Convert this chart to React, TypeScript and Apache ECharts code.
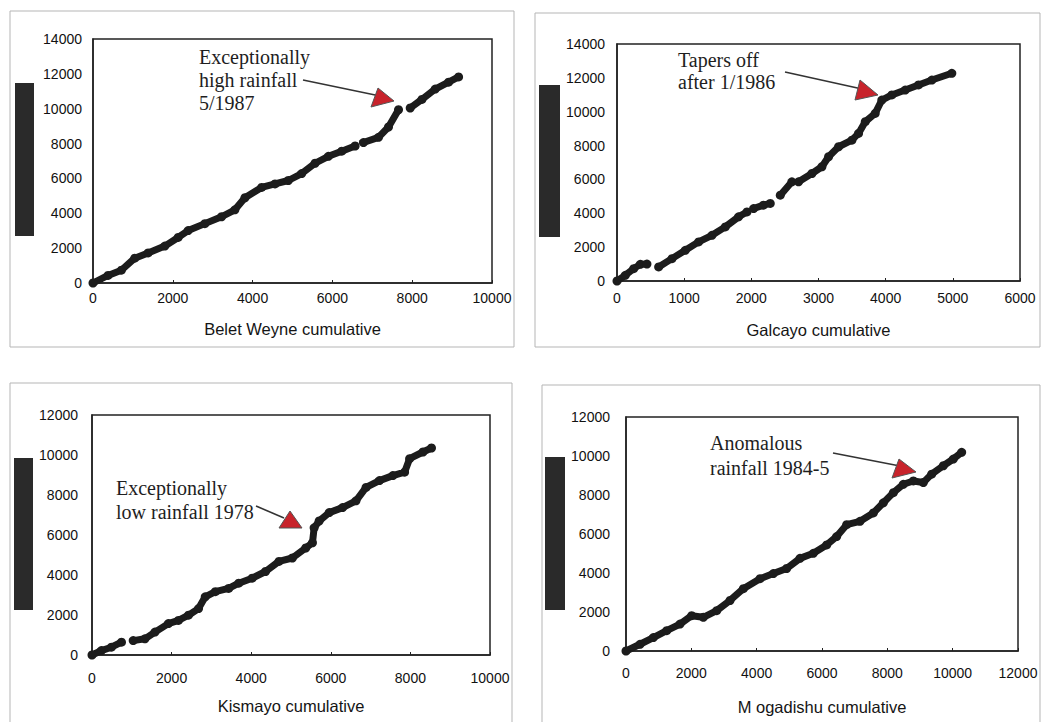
import React, { useEffect, useRef } from "react";
import * as echarts from "echarts";

// Cumulative rainfall pairs [x = station cumulative, y = regional cumulative]; null = gap in the record
const beletWeyne: ([number, number] | null)[] = [
  [0, 0], [377, 436], [711, 733], [1046, 1426], [1381, 1723], [1800, 2119], [2134, 2614],
  [2385, 3010], [2803, 3406], [3222, 3802], [3556, 4198], [3808, 4891], [4226, 5485],
  [4561, 5683], [4895, 5881], [5230, 6277], [5565, 6871], [5900, 7267], [6234, 7564], [6569, 7861],
  null,
  [6778, 8059], [7155, 8356], [7406, 8950], [7657, 9941],
  null,
  [7950, 10040], [8243, 10535], [8577, 11129], [8912, 11525], [9163, 11822],
];

const galcayo: ([number, number] | null)[] = [
  [0, 0], [124, 335], [248, 730], [347, 986], [446, 1000],
  null,
  [620, 830], [818, 1320], [1017, 1815], [1215, 2310], [1414, 2700], [1612, 3195], [1810, 3790], [1935, 4080],
  null,
  [2034, 4280], [2180, 4480], [2282, 4580],
  null,
  [2431, 5070], [2604, 5860],
  null,
  [2703, 5860], [2902, 6350], [3051, 6750], [3150, 7340], [3299, 7930], [3497, 8320], [3596, 8720],
  [3696, 9410], [3844, 9900], [3943, 10690], [4092, 10990], [4291, 11280], [4489, 11580],
  [4688, 11870], [4985, 12270],
];

const kismayo: ([number, number] | null)[] = [
  [0, 0], [236, 220], [488, 390], [741, 640],
  null,
  [1035, 720], [1330, 810], [1582, 1145], [1919, 1570], [2172, 1730], [2424, 1990], [2677, 2320],
  [2845, 2910], [3098, 3165], [3434, 3330], [3687, 3590], [4024, 3840], [4360, 4175], [4697, 4680],
  [5034, 4850], [5370, 5350], [5539, 5610], [5581, 6360], [5707, 6700], [5960, 7120], [6296, 7370],
  [6633, 7710], [6886, 8380], [7222, 8720], [7559, 8970], [7854, 9140], [7980, 9815], [8316, 10150],
  [8530, 10350],
];

const mogadishu: ([number, number] | null)[] = [
  [0, 0], [429, 345], [837, 690], [1245, 1040], [1653, 1380], [2010, 1810], [2367, 1730],
  [2776, 2070], [3184, 2590], [3592, 3195], [4102, 3710], [4510, 3970], [4918, 4230], [5327, 4750],
  [5735, 5010], [6143, 5440], [6449, 5870], [6755, 6480], [7163, 6650], [7571, 7080], [7878, 7600],
  [8184, 8120], [8490, 8550], [8796, 8720], [9102, 8640], [9357, 9070], [9714, 9500], [10020, 9845],
  [10276, 10190],
];

const panelNames = ["Belet Weyne cumulative", "Galcayo cumulative", "Kismayo cumulative", "M ogadishu cumulative"];
const xMaxes = [10000, 6000, 10000, 12000];
const xSteps = [2000, 1000, 2000, 2000];
const yMaxes = [14000, 14000, 12000, 12000];
const ySteps = [2000, 2000, 2000, 2000];
const annotationLines = [
  ["Exceptionally", "high rainfall", "5/1987"],
  ["Tapers off", "after 1/1986"],
  ["Exceptionally", "low rainfall 1978"],
  ["Anomalous", "rainfall 1984-5"],
];

// layout (pixels)
const grids = [
  { left: 93, top: 39, width: 399, height: 244 },
  { left: 617, top: 44, width: 403, height: 237 },
  { left: 92, top: 415, width: 398, height: 240 },
  { left: 626, top: 417, width: 392, height: 234 },
];
const xLabelMargin = [8, 10, 16, 15];
const yLabelMargin = [11, 12, 14, 16];
const nameGaps = [37, 40, 42, 47];
const frames = [
  { x: 10, y: 11, w: 504, h: 336 },
  { x: 535, y: 13, w: 505, h: 334 },
  { x: 10, y: 383, w: 502, h: 345 },
  { x: 542, y: 385, w: 498, h: 345 },
];
const bars = [
  { x: 15, y: 83, w: 19, h: 153 },
  { x: 539, y: 85, w: 21, h: 152 },
  { x: 14, y: 458, w: 19, h: 152 },
  { x: 545, y: 457, w: 20, h: 153 },
];
const textPos = [
  { x: 199, y: 57, lh: 23 },
  { x: 678, y: 60, lh: 22 },
  { x: 116, y: 488, lh: 24 },
  { x: 710, y: 443, lh: 25 },
];
const arrows = [
  { l: [303, 80, 380, 96], head: [[378, 88], [394, 101], [371, 107]] },
  { l: [785, 72, 862, 89], head: [[860, 80], [878, 95], [855, 100]] },
  { l: [256, 506, 284, 518], head: [[290, 511], [302, 528], [279, 528]] },
  { l: [833, 453, 900, 466], head: [[899, 459], [916, 472], [892, 478]] },
];

function splitSegments(data: ([number, number] | null)[]) {
  const segs: [number, number][][] = [];
  let cur: [number, number][] = [];
  for (const p of data) {
    if (p === null) {
      if (cur.length) segs.push(cur);
      cur = [];
    } else cur.push(p);
  }
  if (cur.length) segs.push(cur);
  return segs;
}

export default function App() {
  const ref = useRef<HTMLDivElement>(null);
  useEffect(() => {
    if (!ref.current) return;
    const chart = echarts.init(ref.current, null, { renderer: "svg" });
    const allData = [beletWeyne, galcayo, kismayo, mogadishu];
    const labelFont = { fontFamily: "Liberation Sans, Arial, sans-serif", fontSize: 14, color: "#111" };

    const series: any[] = [];
    allData.forEach((d, i) => {
      splitSegments(d).forEach((seg) => {
        series.push({
          type: "line",
          xAxisIndex: i,
          yAxisIndex: i,
          data: seg,
          symbol: "circle",
          symbolSize: 9,
          showSymbol: true,
          showAllSymbol: true,
          silent: true,
          lineStyle: { width: 7, color: "#1c1c1c", cap: "round", join: "round" },
          itemStyle: { color: "#1c1c1c" },
        });
      });
    });

    const graphic: any[] = [];
    frames.forEach((f) =>
      graphic.push({ type: "rect", shape: { x: f.x, y: f.y, width: f.w, height: f.h }, style: { fill: "none", stroke: "#b5b5b5", lineWidth: 1 } })
    );
    bars.forEach((b) =>
      graphic.push({ type: "rect", shape: { x: b.x, y: b.y, width: b.w, height: b.h }, style: { fill: "#2a2a2a" } })
    );
    annotationLines.forEach((lines, i) => {
      lines.forEach((t, k) =>
        graphic.push({
          type: "text",
          x: textPos[i].x,
          y: textPos[i].y + k * textPos[i].lh,
          style: {
            text: t,
            fontFamily: "Liberation Serif, Times New Roman, serif",
            fontSize: 20,
            fill: "#1e1e1e",
            verticalAlign: "middle",
          },
        })
      );
      const a = arrows[i];
      graphic.push({
        type: "line",
        shape: { x1: a.l[0], y1: a.l[1], x2: a.l[2], y2: a.l[3] },
        style: { stroke: "#333", lineWidth: 1.6 },
      });
      graphic.push({
        type: "polygon",
        shape: { points: a.head },
        style: { fill: "#c8232b", stroke: "#555", lineWidth: 1 },
      });
    });

    chart.setOption({
      animation: false,
      backgroundColor: "#ffffff",
      grid: grids.map((g) => ({
        ...g,
        show: true,
        borderColor: "#222",
        borderWidth: 1.5,
        backgroundColor: "transparent",
      })),
      xAxis: grids.map((_, i) => ({
        type: "value",
        gridIndex: i,
        min: 0,
        max: xMaxes[i],
        interval: xSteps[i],
        name: panelNames[i],
        nameLocation: "middle",
        nameGap: nameGaps[i],
        nameTextStyle: { fontFamily: "Liberation Sans, Arial, sans-serif", fontSize: 16.5, color: "#151515" },
        axisLine: { show: true, lineStyle: { color: "#222", width: 1.5 } },
        axisTick: { show: true, inside: true, length: 3, lineStyle: { color: "#222" } },
        splitLine: { show: false },
        axisLabel: { ...labelFont, margin: xLabelMargin[i], formatter: (v: number) => String(v) },
      })),
      yAxis: grids.map((_, i) => ({
        type: "value",
        gridIndex: i,
        min: 0,
        max: yMaxes[i],
        interval: ySteps[i],
        axisLine: { show: true, lineStyle: { color: "#222", width: 1.5 } },
        axisTick: { show: false },
        splitLine: { show: false },
        axisLabel: { ...labelFont, margin: yLabelMargin[i], formatter: (v: number) => String(v) },
      })),
      series,
      graphic,
    });
    return () => chart.dispose();
  }, []);
  return <div ref={ref} style={{ position: "fixed", left: 0, top: 0, width: 1043, height: 722 }} />;
}
